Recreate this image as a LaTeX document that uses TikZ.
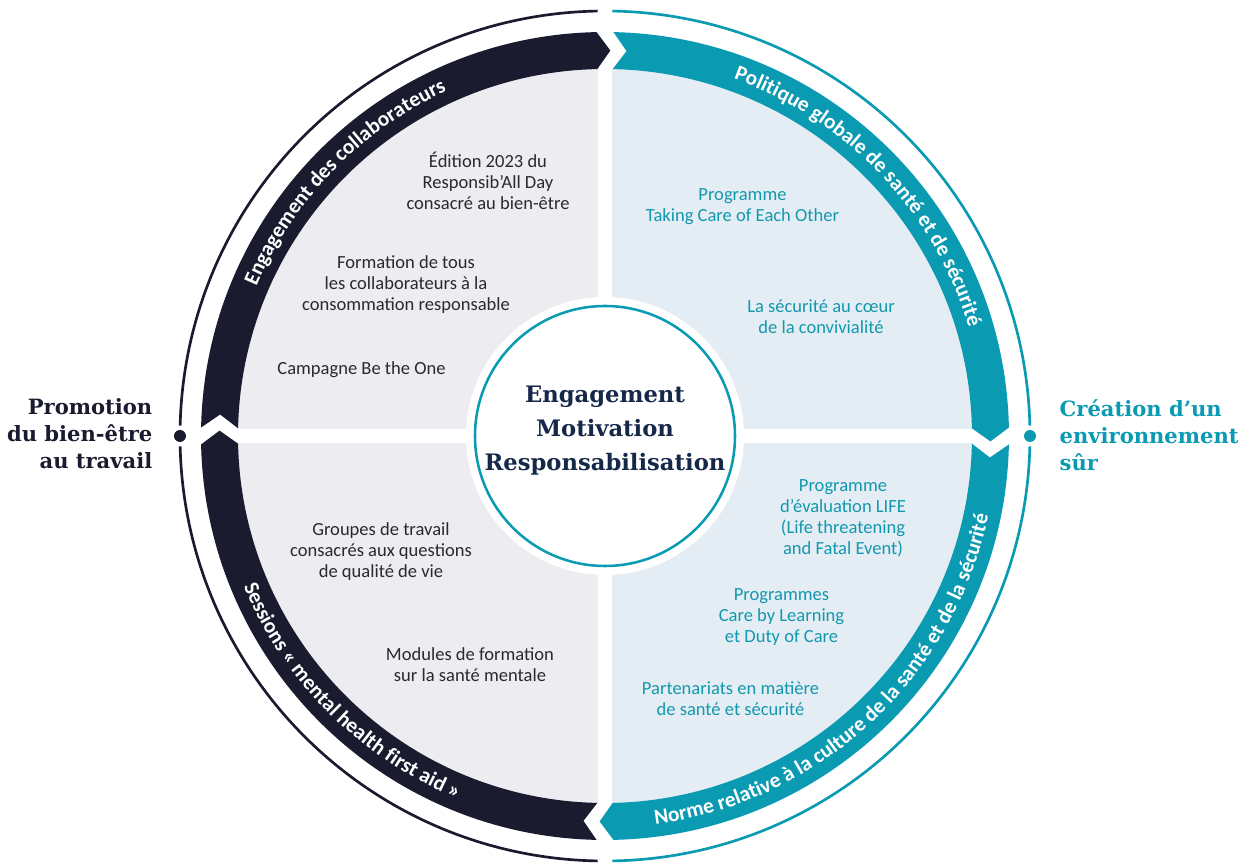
\documentclass[tikz,border=0pt]{standalone}
\usepackage{fontspec}
\setmainfont{Carlito}
\newfontfamily\slab{DejaVu Serif}
\usetikzlibrary{decorations.text}

\definecolor{ringnavy}{HTML}{1A1B2F}
\definecolor{ringteal}{HTML}{0A9AB2}
\definecolor{leftfill}{HTML}{ECECF1}
\definecolor{rightfill}{HTML}{E4EDF3}
\definecolor{coreblue}{HTML}{15284A}
\definecolor{bodygrey}{HTML}{2A2A2A}
\definecolor{bodyteal}{HTML}{1298AE}

\begin{document}
\begin{tikzpicture}[x=0.75pt, y=0.75pt,
  item/.style={align=center, font=\fontsize{13.9}{15.75}\selectfont},
  leftitem/.style={item, text=bodygrey},
  rightitem/.style={item, text=bodyteal},
  heading/.style={font=\slab\bfseries\fontsize{15.8}{20.25}\selectfont},
  dot/.style={circle, inner sep=0pt, minimum size=9pt},
  thin/.style={line width=2pt},
  bandlabel/.style={decorate, decoration={text along path, text align=center,
    text color=white, text={|\bfseries\fontsize{16}{16}\selectfont|#1}}}
]
\useasboundingbox (-605,-430) rectangle (648,436);

% quarter fills
\fill[leftfill] (90:368) arc[start angle=90, end angle=270, radius=368] -- cycle;
\fill[rightfill] (-90:368) arc[start angle=-90, end angle=90, radius=368] -- cycle;
\draw[white, line width=10.5pt] (-370,0) -- (370,0) (0,-370) -- (0,370);

% arrow bands, clockwise
\foreach \s/\e/\c in {180/90/ringnavy, 270/180/ringnavy, 90/0/ringteal, 0/-90/ringteal}
  \fill[\c] (\s-1.2:404) arc[start angle=\s-1.2, end angle=\e+1.2, radius=404]
    -- (\e-0.8:385.5) -- (\e+1.2:367)
    arc[start angle=\e+1.2, end angle=\s-1.2, radius=367]
    -- (\s-3.2:385.5) -- cycle;

% outer ring
\draw[ringnavy, thin] (91:425) arc[start angle=91, end angle=178.6, radius=425];
\draw[ringnavy, thin] (181.4:425) arc[start angle=181.4, end angle=269, radius=425];
\draw[ringteal, thin] (-89:425) arc[start angle=-89, end angle=-1.4, radius=425];
\draw[ringteal, thin] (1.4:425) arc[start angle=1.4, end angle=89, radius=425];
\node[dot, fill=ringnavy] (leftdot) at (180:425) {};
\node[dot, fill=ringteal] (rightdot) at (0:425) {};

% centre
\fill[white] (0,0) circle[radius=139];
\draw[ringteal, line width=1.9pt] (0,0) circle[radius=130];
\node[font=\slab\bfseries\fontsize{17}{25.5}\selectfont, text=coreblue, align=center] (core) at (0,5)
  {Engagement\\Motivation\\Responsabilisation};

% band labels
\path[bandlabel={Engagement des collaborateurs}] (175.7:379.5) arc[start angle=175.7, end angle=95.7, radius=379.5];
\path[bandlabel={Politique globale de santé et de sécurité}] (83.4:379.5) arc[start angle=83.4, end angle=3.4, radius=379.5];
\path[bandlabel={Norme relative à la culture de la santé et de la sécurité}] (269.8:391.5) arc[start angle=269.8, end angle=355.8, radius=391.5];
\path[bandlabel={Sessions « mental health first aid »}] (185.2:391.5) arc[start angle=185.2, end angle=265.2, radius=391.5];

% side headings
\node[heading, text=ringnavy, align=right, anchor=east] (promotion) at (-448,2) {Promotion\\du bien-être\\au travail};
\node[heading, text=ringteal, align=left, anchor=west] (creation) at (450,1) {Création d’un\\environnement\\sûr};

% actions
\node[leftitem] (edition) at (-117,255) {Édition 2023 du\\Responsib’All Day\\consacré au bien-être};
\node[leftitem] (formation) at (-199,151) {Formation de tous\\les collaborateurs à la\\consommation responsable};
\node[leftitem] (campagne) at (-243.5,66) {Campagne Be the One};
\node[leftitem] (groupes) at (-224,-116) {Groupes de travail\\consacrés aux questions\\de qualité de vie};
\node[leftitem] (modules) at (-135,-229) {Modules de formation\\sur la santé mentale};
\node[rightitem] (taking) at (137.5,229) {Programme\\Taking Care of Each Other};
\node[rightitem] (convivial) at (216,119.5) {La sécurité au cœur\\de la convivialité};
\node[rightitem] (life) at (238,-82) {Programme\\d’évaluation LIFE\\(Life threatening\\and Fatal Event)};
\node[rightitem] (learning) at (176.5,-181.5) {Programmes\\Care by Learning\\et Duty of Care};
\node[rightitem] (partners) at (125.5,-263) {Partenariats en matière\\de santé et sécurité};
\end{tikzpicture}
\end{document}
